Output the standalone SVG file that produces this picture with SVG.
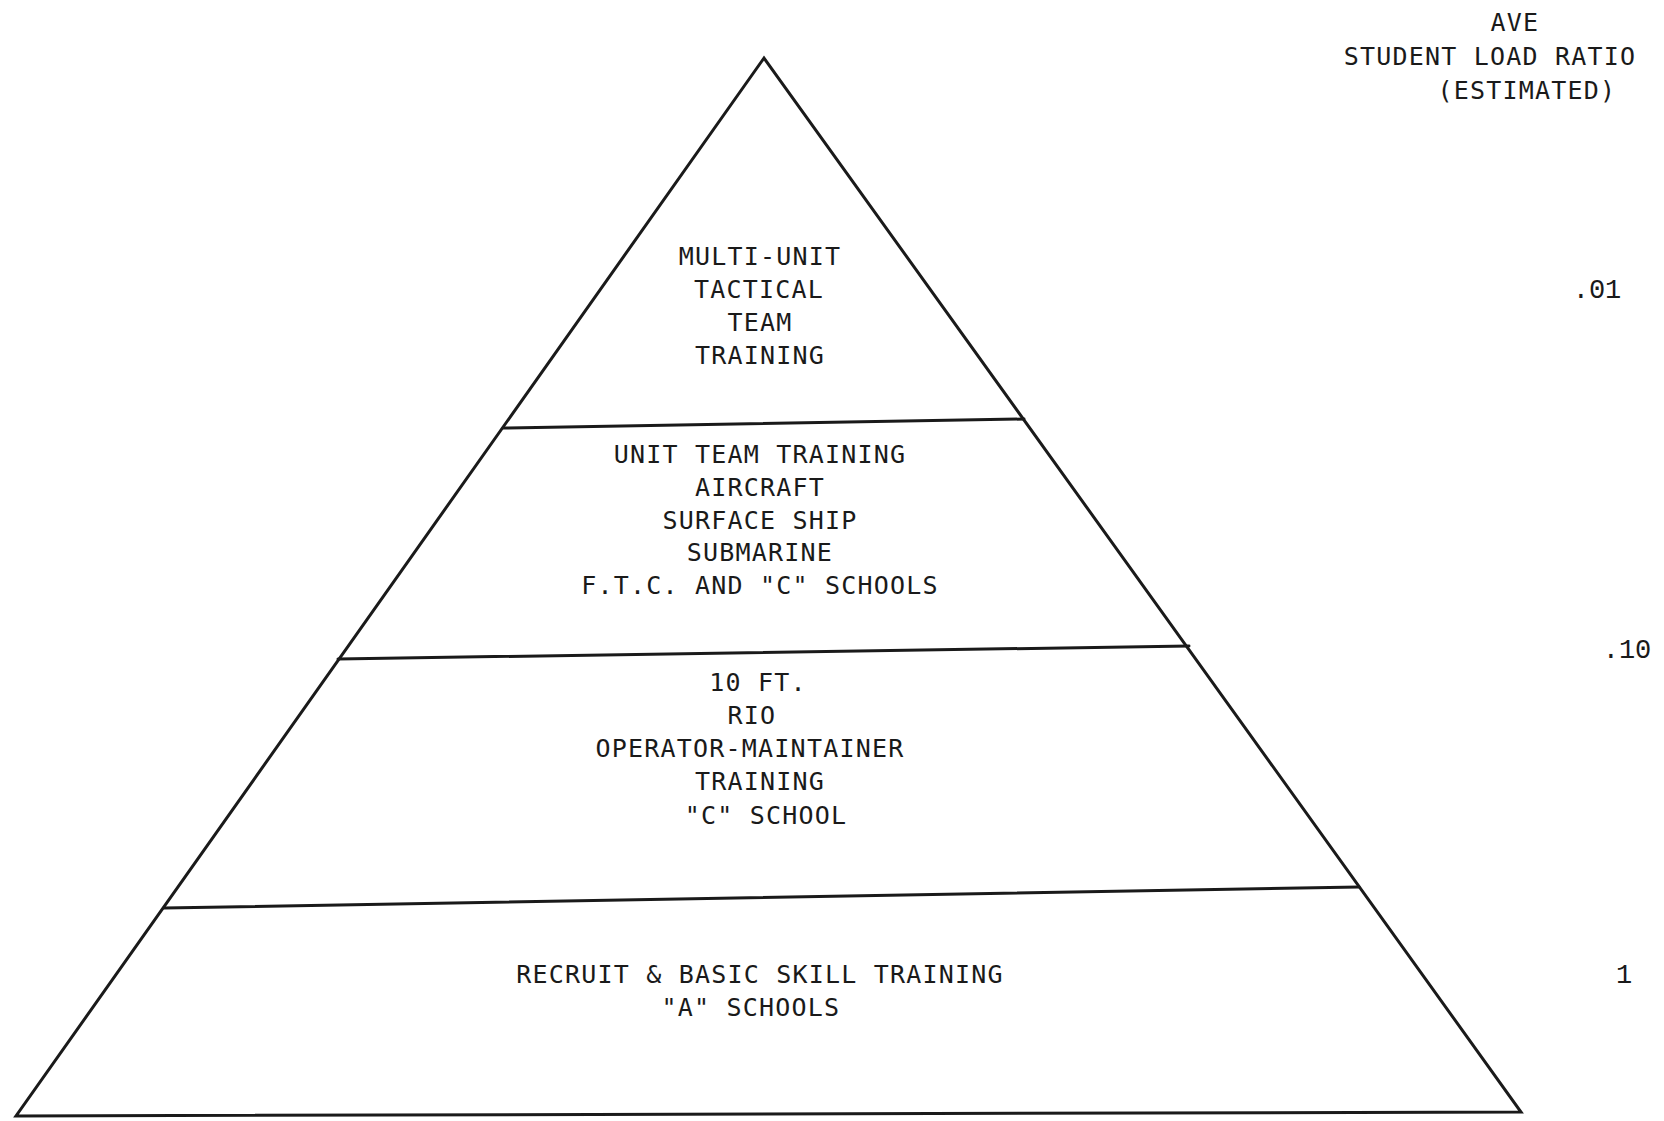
<svg xmlns="http://www.w3.org/2000/svg" width="1664" height="1121" viewBox="0 0 1664 1121">
<style>
.ln{fill:none;stroke:#1a1a1a;stroke-width:3;stroke-linejoin:miter;stroke-linecap:round}
.t{font-family:"DejaVu Sans Mono","Liberation Mono",monospace;font-size:25px;fill:#1a1a1a;text-anchor:middle;letter-spacing:1.2px}
.n{font-family:"Liberation Mono","DejaVu Sans Mono",monospace;font-size:27px;fill:#1a1a1a;text-anchor:middle}
</style>
<rect width="1664" height="1121" fill="#ffffff"/>
<g id="connectors">
<polygon class="ln" points="764,58 16,1116 1521,1112"/>
<line class="ln" x1="503" y1="428" x2="1024" y2="419"/>
<line class="ln" x1="338" y1="659" x2="1189" y2="646"/>
<line class="ln" x1="164" y1="908" x2="1359" y2="887"/>
</g>
<g id="tier-multi-unit">
<text class="t" x="760" y="265">MULTI-UNIT</text>
<text class="t" x="759" y="298">TACTICAL</text>
<text class="t" x="760" y="331">TEAM</text>
<text class="t" x="760" y="364">TRAINING</text>
</g>
<g id="tier-unit-team">
<text class="t" x="760" y="463">UNIT TEAM TRAINING</text>
<text class="t" x="760" y="496">AIRCRAFT</text>
<text class="t" x="760" y="529">SURFACE SHIP</text>
<text class="t" x="760" y="561">SUBMARINE</text>
<text class="t" x="760" y="594">F.T.C. AND "C" SCHOOLS</text>
</g>
<g id="tier-operator">
<text class="t" x="758" y="691">10 FT.</text>
<text class="t" x="752" y="724">RIO</text>
<text class="t" x="750" y="757">OPERATOR-MAINTAINER</text>
<text class="t" x="760" y="790">TRAINING</text>
<text class="t" x="766" y="824">"C" SCHOOL</text>
</g>
<g id="tier-recruit">
<text class="t" x="760" y="983">RECRUIT &amp; BASIC SKILL TRAINING</text>
<text class="t" x="751" y="1016">"A" SCHOOLS</text>
</g>
<g id="ratio-header">
<text class="t" x="1515" y="31">AVE</text>
<text class="t" x="1490" y="65">STUDENT LOAD RATIO</text>
<text class="t" x="1527" y="99">(ESTIMATED)</text>
</g>
<g id="ratios">
<text class="n" x="1597" y="298">.01</text>
<text class="n" x="1627" y="658">.10</text>
<text class="n" x="1624" y="983">1</text>
</g>
</svg>
